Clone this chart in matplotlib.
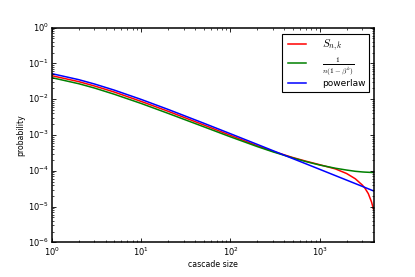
import matplotlib
matplotlib.use('Agg')
import matplotlib.pyplot as plt

##### values #####

# cascade sizes where the curves were read
k = [1, 2, 3, 5, 10, 20, 50, 100, 200, 300, 500, 700, 1000, 1500, 2000,
     2500, 3000, 3200, 3500, 3800, 4000]

# S_{n,k}
s_nk = [0.0455, 0.0311, 0.0235, 0.0159, 0.0087, 0.00462, 0.00192, 9.8e-4,
        5.0e-4, 3.5e-4, 2.35e-4, 1.86e-4, 1.48e-4, 1.13e-4, 8.4e-5,
        6.0e-5, 4.0e-5, 3.3e-5, 2.3e-5, 1.35e-5, 8.5e-6]

# 1 / (n (1 - beta^k))
approx = [0.0401, 0.0272, 0.0206, 0.0138, 0.00763, 0.00404, 0.00171, 8.9e-4,
          4.75e-4, 3.38e-4, 2.29e-4, 1.81e-4, 1.45e-4, 1.18e-4, 1.05e-4,
          9.7e-5, 9.3e-5, 9.2e-5, 9.1e-5, 9.0e-5, 9.0e-5]

# powerlaw
powerlaw = [0.0519, 0.0353, 0.0267, 0.0180, 0.00989, 0.00521, 0.00215,
            1.088e-3, 5.47e-4, 3.65e-4, 2.19e-4, 1.57e-4, 1.10e-4, 7.33e-5,
            5.50e-5, 4.40e-5, 3.67e-5, 3.44e-5, 3.14e-5, 2.89e-5, 2.75e-5]

##### plot the data #####

plt.style.use('classic')
plt.rcParams['mathtext.fontset'] = 'cm'

fig = plt.figure(figsize=(4.15, 2.77), dpi=100, facecolor='white')
ax = fig.add_subplot(111)
fig.subplots_adjust(left=0.125, right=0.9, top=0.9, bottom=0.125)

ax.loglog(k, s_nk, color='r', lw=1.1, label=r'$S_{n,k}$')
ax.loglog(k, approx, color='g', lw=1.1, label=r'$\frac{1}{n(1-\beta^k)}$')
ax.loglog(k, powerlaw, color='b', lw=1.1, label='powerlaw')

ax.set_xlim(1, 4000)
ax.set_ylim(1e-6, 1)

# labels, ticks, legend
ax.set_xlabel('cascade size', fontsize=5.6, labelpad=2)
ax.set_ylabel('probability', fontsize=5.6, labelpad=2)
ax.tick_params(which='major', labelsize=6, length=3, width=0.6, pad=2)
ax.tick_params(which='minor', length=1.6, width=0.5)
for s in ax.spines.values():
    s.set_linewidth(1.1)

leg = ax.legend(loc='upper right', bbox_to_anchor=(0.9875, 0.972),
                borderaxespad=0, fontsize=6.5, handlelength=2.6,
                labelspacing=0.3, borderpad=0.4, handletextpad=1.5)
leg.get_frame().set_edgecolor('black')
leg.get_frame().set_linewidth(0.8)
leg.get_texts()[0].set_fontsize(8)
leg.get_texts()[1].set_fontsize(7.5)

plt.savefig('out.png', dpi=100, facecolor='white')
